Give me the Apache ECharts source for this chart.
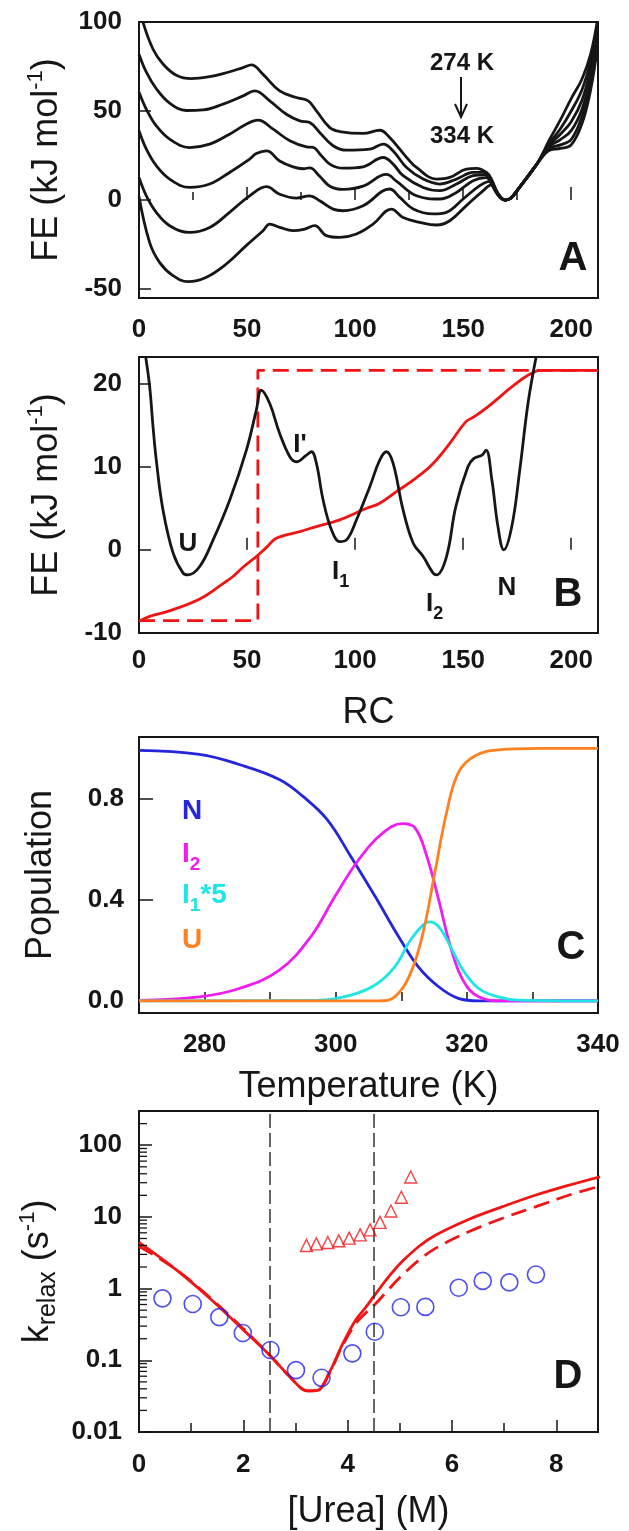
<!DOCTYPE html>
<html>
<head>
<meta charset="utf-8">
<script src="https://cdn.jsdelivr.net/npm/echarts@6.0.0/dist/echarts.min.js"></script>
<style>
  html, body { margin: 0; padding: 0; background: #fff; }
  #chart { width: 629px; height: 1531px; }
</style>
</head>
<body>
<div id="chart"></div>
<script>
// ---- panel A : free energy profiles, 274 K -> 334 K ----
var feA274 = [[1.9,99.6],[6.5,84.7],[11.2,76.3],[17.3,70.1],[24.2,68.2],[32.7,69.3],[40.4,71.5],[48.2,74.4],[52,75.9],[57.4,70.6],[65.1,61.3],[72.8,57.6],[78.3,55.7],[82.1,50.1],[88.3,40.7],[92.9,38.5],[103.7,37.4],[111.4,39.2],[116,35.1],[123.8,24],[128.4,18.3],[137.7,11.8],[143.8,12.7],[151.5,17.4],[156.2,17.8],[160.8,15.5],[163,12],[166,4],[169.5,0],[172,1],[176,7],[184,20],[190,34],[195,45],[200,57],[205,68],[209,82],[212,100]];
var feA286 = [[0,81.9],[3.4,71.8],[8,62.5],[14.2,54.4],[21.9,50.3],[29.6,50.6],[38.9,53.9],[48.2,58.5],[53.6,61.3],[60.5,55.7],[68.2,48.2],[74.4,44.5],[79,43.5],[83.6,38],[89.8,30.5],[96,28],[106.8,28.6],[113,31.4],[117.6,27.6],[123.8,18.3],[131.5,11.8],[139.2,9],[146.9,11.8],[154.6,15.5],[159.5,15.6],[163,11],[166,4],[169.5,0],[172,1],[176,7],[184,20],[190,32],[195,40],[200,50],[205,62],[209,78],[212,97]];
var feA298 = [[0,60.7],[3.4,51],[8,41.7],[14.2,34.2],[23.4,29.5],[32.7,31.4],[41.9,37],[49.6,42.6],[55.1,44.9],[62.1,39.8],[69.8,33.3],[77.5,29.9],[80.6,29.6],[84,25.5],[88.3,20.2],[94.4,17.9],[103.7,18.7],[113,23.9],[117.6,20.2],[122.2,13.7],[131.5,7.1],[139.2,5.3],[146.9,9],[154.6,13.7],[160,14.2],[163,10],[166,3.5],[169.5,0],[172,1],[176,7],[184,20],[190,31],[195,37],[200,44],[205,56],[209,74],[212,94]];
var feA310 = [[0,38.9],[3.4,28.6],[8,19.3],[14.2,11.8],[23.4,7.1],[32.7,9],[41.9,15.5],[51.2,23],[54.3,26.1],[59,27.6],[65.1,21.9],[71.3,18.6],[76,17.6],[79,18.1],[83.6,13.4],[88.3,7.8],[94.4,6],[103.7,7.8],[114.5,14.4],[119.1,10.6],[128.4,2.4],[139.2,0.6],[146.9,4.3],[154.6,10.9],[160.8,12.6],[163.5,8],[166.2,2.8],[169.5,0],[172,1],[176,7],[184,20],[190,30],[195,34],[200,39],[205,51],[209,70],[212,91]];
var feA322 = [[0,12.7],[3.4,2.4],[8,-6.9],[14.2,-14.4],[23.4,-18.2],[32.7,-15.4],[41.9,-6.9],[51.2,2.4],[59,7.5],[65.1,3.3],[72.8,1.1],[79,2.4],[83.6,-0.4],[89.8,-5.1],[94.4,-6],[103.7,-3.2],[116,6.2],[120.7,1.5],[126.9,-5],[136.1,-7.8],[142.2,-6.9],[150,0.6],[157.7,8.1],[162.3,10.5],[164.5,6],[167,1.5],[169.5,0],[172,1],[176,7],[184,20],[190,29],[195,31],[200,34],[205,47],[209,66],[212,88]];
var feA334 = [[0,2],[4.9,-23.8],[9.5,-35],[15.7,-42.4],[22.7,-45.8],[31.2,-43.3],[40.4,-35.9],[49.6,-25.6],[57.4,-17.2],[60.5,-13.5],[65.1,-15.3],[71.3,-17.2],[76.7,-16.3],[81.3,-14.4],[86.7,-20],[92.9,-21],[100.6,-19.1],[108.3,-13.5],[116.8,-5.1],[122.2,-9.8],[129.9,-12.5],[137.7,-14],[143.8,-11.6],[151.5,-3.1],[159.2,5.2],[163.1,8.5],[165.5,4],[167.5,1],[169.5,0],[172,1],[176,7],[184,20],[190,28],[195,29],[200,31],[205,43],[209,62],[212,85]];
var ticksA_x = [0, 50, 100, 150, 200];
var ticksA_y = [-50, 0, 50, 100];

// ---- panel B : profile at one temperature + cumulative curves ----
var feB = [[3.1,23.2],[4.95,19.6],[6.5,14.8],[8,10.8],[11.1,4.8],[15.8,-0.4],[20.4,-2.8],[22.7,-3],[28.1,-2],[34.3,1.2],[42,6],[49.7,12],[54.3,16.8],[56.6,19.2],[60.5,17.6],[65.1,14],[69.8,11.2],[72.8,10.6],[77.5,11.4],[79.8,11.8],[82.1,10.4],[85.2,6],[89.1,2.4],[92.9,1],[96,1.2],[100.6,3.6],[106.8,7.6],[111.4,10.8],[114.5,11.8],[117.6,10.4],[122.2,4.8],[126.9,0.8],[131.5,-0.8],[136.1,-2.8],[137.7,-3],[142.3,-0.8],[146.6,5.2],[152.2,10],[155,11],[158.7,11.4],[160.6,12],[163.3,8.4],[166.1,2.8],[168.8,0],[172.5,2.8],[176.2,9.6],[180,17.6],[183.7,23.1]];
var redSolidB = [[0,-8.6],[4.95,-8],[13.3,-7.4],[28.1,-5.9],[39.2,-4],[43.5,-3.2],[48.5,-2],[54.3,-0.8],[59,0.3],[63.5,1.4],[74.4,2.2],[82.1,2.8],[92.9,3.6],[105.3,5],[111.4,5.6],[119.1,7],[128,8.6],[136.1,10.4],[143.8,12.8],[151.2,15.4],[155,16],[161.4,17.2],[172.5,19.6],[180,21],[186,21.6],[212.4,21.6]];
var redDashB = [[0,-8.5],[55,-8.5],[55,21.6],[212.4,21.6]];
var ticksB_x = [0, 50, 100, 150, 200];
var ticksB_y = [-10, 0, 10, 20];

// ---- panel C : populations vs temperature ----
var popN = [[270,0.992],[279.2,0.976],[285.3,0.936],[291.4,0.877],[295,0.81],[298.7,0.718],[302.3,0.572],[306,0.414],[309.6,0.254],[312.6,0.135],[315.7,0.056],[318.7,0.01],[321.8,0],[340,0]];
var popI2 = [[270,0.002],[279.2,0.016],[285.3,0.049],[291.4,0.122],[296.2,0.254],[299.9,0.414],[303.5,0.559],[307.2,0.665],[310.2,0.702],[312.1,0.685],[313.9,0.572],[315.7,0.4],[317.5,0.215],[319.4,0.082],[321.8,0.016],[325.5,0],[340,0]];
var popI1x5 = [[270,0],[297.4,0.003],[302.3,0.023],[306,0.063],[309,0.135],[311.4,0.241],[313.3,0.3],[314.3,0.313],[315.7,0.294],[317.5,0.215],[319.4,0.122],[321.8,0.049],[324.8,0.016],[327.9,0.003],[340,0]];
var popU = [[270,0],[306.6,0],[309,0.016],[311.4,0.109],[313.3,0.268],[315.1,0.506],[316.9,0.745],[318.7,0.904],[321.2,0.97],[324.8,0.994],[330.9,1],[340,1]];
var ticksC_x = [280, 300, 320, 340];
var minorC_x = [280, 290, 300, 310, 320, 330];
var ticksC_y = [0, 0.4, 0.8];

// ---- panel D : relaxation rates vs urea ----
var ureaCircles = [0.45, 1.03, 1.54, 1.99, 2.52, 3.01, 3.5, 4.09, 4.52, 5.02, 5.49, 6.13, 6.59, 7.1, 7.61];
var kCircles = [0.73, 0.61, 0.40, 0.24, 0.139, 0.073, 0.057, 0.125, 0.25, 0.55, 0.556, 1.03, 1.28, 1.22, 1.57];
var ureaTri = [3.21, 3.4, 3.62, 3.83, 4.03, 4.24, 4.43, 4.62, 4.83, 5.03, 5.21];
var kTri = [4.0, 4.2, 4.4, 4.64, 5.06, 5.62, 6.6, 8.4, 12.1, 18.8, 36];
var kSolidD = [[0,4.4],[0.71,1.84],[1.35,0.74],[1.99,0.27],[2.52,0.115],[2.88,0.0605],[3.23,0.0375],[3.42,0.038],[3.65,0.0675],[3.9,0.167],[4.16,0.37],[4.35,0.55],[4.54,0.85],[4.8,1.5],[5.05,2.4],[5.37,3.9],[5.69,5.6],[6.33,9.3],[6.97,13.9],[7.61,20.2],[8.25,27.8],[8.84,36.3]];
var kDashD = [[0,3.9],[0.71,1.85],[1.35,0.76],[1.99,0.28],[2.52,0.115],[2.88,0.06],[3.23,0.0375],[3.42,0.038],[3.65,0.066],[3.9,0.16],[4.16,0.33],[4.35,0.46],[4.54,0.62],[4.8,1.0],[5.05,1.55],[5.37,2.5],[5.69,3.67],[6.33,6.25],[6.97,9.58],[7.61,13.9],[8.25,20.2],[8.84,26.9]];
var ureaMarks = [2.5, 4.5];
var logMinorD = [0.02,0.03,0.04,0.05,0.06,0.07,0.08,0.09,0.2,0.3,0.4,0.5,0.6,0.7,0.8,0.9,2,3,4,5,6,7,8,9,20,30,40,50,60,70,80,90,200];

(function () {
  var myChart = echarts.init(document.getElementById("chart"));
  var FONT = "Liberation Sans, Arial, Helvetica, sans-serif";
  var INK = "#161616";
  var TICKFS = 26;

  function zip(xs, ys) {
    return xs.map(function (x, i) { return [x, ys[i]]; });
  }

  // shared axis styling
  function axisBase(gridIndex) {
    return {
      type: "value",
      gridIndex: gridIndex,
      axisLine: { show: false },
      axisTick: { inside: true, length: 12, lineStyle: { color: INK, width: 1.5 } },
      splitLine: { show: false },
      axisLabel: { color: INK, fontSize: TICKFS, fontWeight: "bold", fontFamily: FONT, margin: 17 },
      nameLocation: "middle",
      nameTextStyle: { color: INK, fontSize: 36, fontFamily: FONT },
    };
  }
  function ext(a, b) {
    var o = {};
    [a, b].forEach(function (s) { for (var k in s) o[k] = s[k]; });
    return o;
  }
  function lbl(margin, extra) {
    return ext({ color: INK, fontSize: TICKFS, fontWeight: "bold", fontFamily: FONT, margin: margin }, extra || {});
  }
  var yNameRich = {
    n: { fontSize: 36, fontFamily: FONT, color: INK, lineHeight: 44 },
    sup: { fontSize: 22, fontFamily: FONT, color: INK, lineHeight: 22, verticalAlign: "top" },
    sub: { fontSize: 25, fontFamily: FONT, color: INK, lineHeight: 25, verticalAlign: "bottom" },
  };
  var gridStyle = { left: 139, width: 459, show: true, borderColor: INK, borderWidth: 2, backgroundColor: "#fff" };

  function line(xi, data, color, extra) {
    return ext({
      type: "line", xAxisIndex: xi, yAxisIndex: xi, data: data,
      showSymbol: false, smooth: 0.4, clip: true, z: 3,
      lineStyle: { color: color, width: 2.8 }, itemStyle: { color: color },
    }, extra || {});
  }

  var option = {
    animation: false,
    backgroundColor: "#fff",
    grid: [
      ext(gridStyle, { top: 22, height: 276 }),
      ext(gridStyle, { top: 357, height: 276 }),
      ext(gridStyle, { top: 737, height: 276 }),
      ext(gridStyle, { top: 1111, height: 321 }),
    ],
    xAxis: [
      ext(axisBase(0), {
        min: 0, max: 212.4, interval: 50,
        axisTick: { inside: true, length: 13, lineStyle: { color: INK, width: 1.5 } },
        minorTick: { show: true, splitNumber: 2, length: 8, lineStyle: { color: INK, width: 1.5 } },
        axisLabel: lbl(19, { customValues: ticksA_x }),
      }),
      ext(axisBase(1), {
        min: 0, max: 212.4, interval: 50, name: "RC", nameGap: 62,
        axisLabel: lbl(15, { customValues: ticksB_x }),
        axisTick: { inside: true, length: 12, lineStyle: { color: INK, width: 1.5 }, customValues: [50, 100, 150, 200] },
      }),
      ext(axisBase(2), {
        min: 270, max: 340, name: "Temperature (K)", nameGap: 56,
        axisTick: { inside: true, length: 9, lineStyle: { color: INK, width: 1.5 }, customValues: minorC_x },
        axisLabel: lbl(19, { customValues: ticksC_x }),
      }),
      ext(axisBase(3), {
        min: 0, max: 8.8, interval: 2, name: "[Urea] (M)", nameGap: 62,
        axisTick: { inside: true, length: 12, lineStyle: { color: INK, width: 1.5 } },
        minorTick: { show: true, splitNumber: 2, length: 9, lineStyle: { color: INK, width: 1.5 } },
        axisLabel: lbl(20, { showMaxLabel: false }),
      }),
    ],
    yAxis: [
      ext(axisBase(0), {
        min: -55, max: 100, name: "{n|FE (kJ mol}{sup|-1}{n|)}", nameGap: 70,
        nameTextStyle: { rich: yNameRich },
        axisTick: { inside: true, length: 12, lineStyle: { color: INK, width: 1.5 }, customValues: [-50, 0, 50] },
        axisLabel: lbl(17, { customValues: ticksA_y }),
      }),
      ext(axisBase(1), {
        min: -10, max: 23.2, name: "{n|FE (kJ mol}{sup|-1}{n|)}", nameGap: 70,
        nameTextStyle: { rich: yNameRich },
        axisTick: { inside: true, length: 12, lineStyle: { color: INK, width: 1.5 }, customValues: [0, 10, 20] },
        axisLabel: lbl(17, { customValues: ticksB_y }),
      }),
      ext(axisBase(2), {
        min: -0.048, max: 1.045, name: "Population", nameGap: 80,
        axisTick: { inside: true, length: 14, lineStyle: { color: INK, width: 1.5 }, customValues: [0.4, 0.8] },
        axisLabel: lbl(15, { customValues: ticksC_y, formatter: function (v) { return v.toFixed(1); } }),
      }),
      ext(axisBase(3), {
        type: "log", logBase: 10, min: 0.01, max: 300,
        name: "{n|k}{sub|relax}{n| (s}{sup|-1}{n|)}", nameGap: 70,
        nameTextStyle: { rich: yNameRich },
        axisTick: { inside: true, length: 13, lineStyle: { color: INK, width: 1.5 } },
        axisLabel: lbl(17, {
          showMaxLabel: false,
          formatter: function (v) { return v >= 1 ? String(Math.round(v)) : String(+v.toPrecision(1)); },
        }),
      }),
    ],
    series: [
      line(0, feA274, INK), line(0, feA286, INK), line(0, feA298, INK),
      line(0, feA310, INK), line(0, feA322, INK), line(0, feA334, INK),

      line(1, redSolidB, "#f01414", { z: 2 }),
      line(1, redDashB, "#f01414", { smooth: false, z: 2, lineStyle: { color: "#f01414", width: 2.8, type: [16, 8] } }),
      line(1, feB, INK, { z: 4 }),

      line(2, popN, "#2525dc"),
      line(2, popI2, "#f01cf0"),
      line(2, popI1x5, "#1ee6e6"),
      line(2, popU, "#ff8020"),

      line(3, kDashD, "#f01414", { smooth: 0.35, lineStyle: { color: "#f01414", width: 2.8, type: [16, 8] } }),
      line(3, kSolidD, "#f01414", {
        smooth: 0.35,
        markLine: {
          silent: true, symbol: "none", label: { show: false },
          lineStyle: { color: "#333", width: 1.5, type: [14, 5] },
          data: ureaMarks.map(function (u) { return { xAxis: u }; }),
        },
      }),
      {
        type: "scatter", xAxisIndex: 3, yAxisIndex: 3, z: 5,
        data: zip(ureaCircles, kCircles), symbol: "circle", symbolSize: 17,
        itemStyle: { color: "rgba(0,0,0,0)", borderColor: "#2222ee", borderWidth: 1.6 },
      },
      {
        type: "scatter", xAxisIndex: 3, yAxisIndex: 3, z: 5,
        data: zip(ureaTri, kTri), symbol: "triangle", symbolSize: 12,
        itemStyle: { color: "rgba(0,0,0,0)", borderColor: "#f01414", borderWidth: 1.4 },
      },
      {
        // minor ticks of the log axis, 2..9 per decade
        type: "custom", xAxisIndex: 3, yAxisIndex: 3, silent: true, z: 6,
        data: logMinorD.map(function (v) { return [0, v]; }),
        renderItem: function (params, api) {
          var p = api.coord([0, api.value(1)]);
          return {
            type: "line",
            shape: { x1: p[0], y1: p[1], x2: p[0] + 8, y2: p[1] },
            style: { stroke: INK, lineWidth: 1.3 },
          };
        },
      },
    ],
    graphic: [
      // panel letters
      { type: "text", x: 573, y: 259, style: { text: "A", font: "bold 40px " + FONT, fill: INK, textAlign: "center", textVerticalAlign: "middle" } },
      { type: "text", x: 568, y: 595, style: { text: "B", font: "bold 40px " + FONT, fill: INK, textAlign: "center", textVerticalAlign: "middle" } },
      { type: "text", x: 571, y: 948, style: { text: "C", font: "bold 40px " + FONT, fill: INK, textAlign: "center", textVerticalAlign: "middle" } },
      { type: "text", x: 568, y: 1377, style: { text: "D", font: "bold 40px " + FONT, fill: INK, textAlign: "center", textVerticalAlign: "middle" } },

      // panel A temperature annotation
      { type: "text", x: 462, y: 63, style: { text: "274 K", font: "bold 24px " + FONT, fill: INK, textAlign: "center", textVerticalAlign: "middle" } },
      { type: "text", x: 462, y: 136, style: { text: "334 K", font: "bold 24px " + FONT, fill: INK, textAlign: "center", textVerticalAlign: "middle" } },
      { type: "line", shape: { x1: 461, y1: 77, x2: 461, y2: 116 }, style: { stroke: INK, lineWidth: 2 } },
      { type: "polyline", shape: { points: [[455, 104], [461, 117], [467, 104]] }, style: { stroke: INK, lineWidth: 2, fill: null } },

      // panel B state labels
      { type: "text", x: 188, y: 544, style: { text: "U", font: "bold 26px " + FONT, fill: INK, textAlign: "center", textVerticalAlign: "middle" } },
      { type: "text", x: 300, y: 445, style: { text: "I'", font: "bold 26px " + FONT, fill: INK, textAlign: "center", textVerticalAlign: "middle" } },
      {
        type: "text", x: 332, y: 553,
        style: { text: "{t|I}{s|1}", rich: { t: { font: "bold 26px " + FONT, fill: INK, lineHeight: 38 }, s: { font: "bold 18px " + FONT, fill: INK, lineHeight: 18, verticalAlign: "bottom" } } },
      },
      {
        type: "text", x: 426, y: 585,
        style: { text: "{t|I}{s|2}", rich: { t: { font: "bold 26px " + FONT, fill: INK, lineHeight: 38 }, s: { font: "bold 18px " + FONT, fill: INK, lineHeight: 18, verticalAlign: "bottom" } } },
      },
      { type: "text", x: 507, y: 588, style: { text: "N", font: "bold 26px " + FONT, fill: INK, textAlign: "center", textVerticalAlign: "middle" } },

      // panel C state legend
      { type: "text", x: 182, y: 811, style: { text: "N", font: "bold 28px " + FONT, fill: "#2525dc", textVerticalAlign: "middle" } },
      {
        type: "text", x: 182, y: 834,
        style: { text: "{t|I}{s|2}", rich: { t: { font: "bold 28px " + FONT, fill: "#f01cf0", lineHeight: 40 }, s: { font: "bold 19px " + FONT, fill: "#f01cf0", lineHeight: 19, verticalAlign: "bottom" } } },
      },
      {
        type: "text", x: 182, y: 875,
        style: { text: "{t|I}{s|1}{t|*5}", rich: { t: { font: "bold 28px " + FONT, fill: "#1ee6e6", lineHeight: 40 }, s: { font: "bold 19px " + FONT, fill: "#1ee6e6", lineHeight: 19, verticalAlign: "bottom" } } },
      },
      { type: "text", x: 182, y: 940, style: { text: "U", font: "bold 28px " + FONT, fill: "#ff8020", textVerticalAlign: "middle" } },
    ],
  };

  myChart.setOption(option);
  window.addEventListener("resize", function () {
    myChart.resize();
  });
})();
</script>
</body>
</html>
